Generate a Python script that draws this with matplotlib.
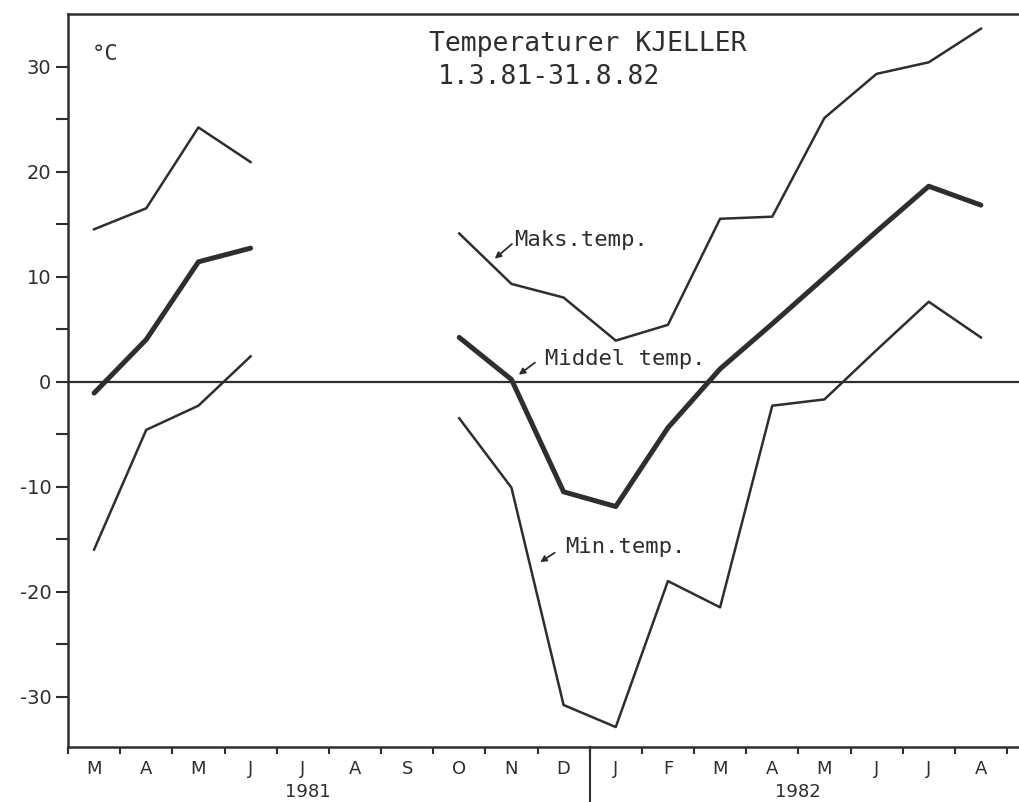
import numpy as np
import matplotlib
matplotlib.use("Agg")
import matplotlib.pyplot as plt
import matplotlib.transforms as mtransforms

# Monthly temperatures, Kjeller, March 1981 - August 1982 (no data Jul-Sep 1981)
months_1981 = ["M", "A", "M", "J", "J", "A", "S", "O", "N", "D"]
months_1982 = ["J", "F", "M", "A", "M", "J", "J", "A"]
nan = np.nan
maks_temp = [14.5, 16.5, 24.2, 20.9, nan, nan, nan, 14.1, 9.3, 8.0,
             3.9, 5.4, 15.5, 15.7, 25.1, 29.3, 30.4, 33.6]
middel_temp = [-1.1, 4.0, 11.4, 12.7, nan, nan, nan, 4.2, 0.2, -10.5,
               -11.9, -4.4, 1.2, 5.5, 9.9, 14.3, 18.6, 16.8]
min_temp = [-16.0, -4.6, -2.3, 2.4, nan, nan, nan, -3.5, -10.1, -30.8,
            -32.9, -19.0, -21.5, -2.3, -1.7, 3.0, 7.6, 4.2]

ink = "#2e2e2e"
lettering = "DejaVu Sans Mono"
month_labels = months_1981 + months_1982
n = len(month_labels)
x = np.arange(n) + 0.5

fig = plt.figure(figsize=(10.19, 8.02), dpi=100)
ax = fig.add_axes([68 / 1019, 1 - 747 / 802, 1 - 68 / 1019, (747 - 14) / 802])

ax.plot(x, maks_temp, color=ink, lw=1.8)
ax.plot(x, middel_temp, color=ink, lw=3.6, solid_capstyle="round")
ax.plot(x, min_temp, color=ink, lw=1.8)
ax.axhline(0, color=ink, lw=1.6)

ax.set_xlim(0, 18.23)
ax.set_ylim(-34.8, 35.0)

# frame: left, bottom and top line only
ax.spines["right"].set_visible(False)
for s in ("left", "bottom", "top"):
    ax.spines[s].set_color(ink)
    ax.spines[s].set_linewidth(1.8)

# y axis ticks
ax.set_yticks(np.arange(-30, 31, 10))
ax.set_yticklabels([str(v) for v in range(-30, 31, 10)])
ax.set_yticks(np.arange(-25, 30, 10), minor=True)
ax.tick_params(axis="y", which="both", direction="out", length=9, width=1.5,
               color=ink, labelsize=14, labelcolor=ink, pad=3)

# x axis: ticks on month boundaries, labels centred in each month
ax.set_xticks(np.arange(0, n + 1))
ax.set_xticklabels([])
ax.tick_params(axis="x", which="major", direction="out", length=5, width=1.5, color=ink)
ax.set_xticks(x, minor=True)
ax.set_xticklabels(month_labels, minor=True)
ax.tick_params(axis="x", which="minor", length=0, labelsize=13, labelcolor=ink, pad=9)

# year labels and year separator
trans = mtransforms.blended_transform_factory(ax.transData, ax.transAxes)
ax.plot([10, 10], [0, -0.08], color=ink, lw=1.5, transform=trans, clip_on=False)
ax.text(4.6, -0.062, "1981", transform=trans, ha="center", va="center",
        fontsize=13, color=ink)
ax.text(14.0, -0.062, "1982", transform=trans, ha="center", va="center",
        fontsize=13, color=ink)

# unit and title
ax.text(0.45, 31.2, "°C", ha="left", va="center", fontsize=16, color=ink,
        family=lettering)
ax.text(9.97, 32.1, "Temperaturer KJELLER", ha="center", va="center",
        fontsize=19, color=ink, family=lettering)
ax.text(9.22, 29.0, "1.3.81-31.8.82", ha="center", va="center",
        fontsize=19, color=ink, family=lettering)

# series labels with small arrows
arrow = dict(arrowstyle="-|>", color=ink, lw=1.3, mutation_scale=9,
             shrinkA=0, shrinkB=0)
ax.text(8.56, 13.5, "Maks.temp.", ha="left", va="center", fontsize=16,
        color=ink, family=lettering)
ax.annotate("", xy=(8.18, 11.7), xytext=(8.51, 13.1), arrowprops=arrow)
ax.text(9.14, 2.1, "Middel temp.", ha="left", va="center", fontsize=16,
        color=ink, family=lettering)
ax.annotate("", xy=(8.64, 0.65), xytext=(8.95, 1.8), arrowprops=arrow)
ax.text(9.53, -15.8, "Min.temp.", ha="left", va="center", fontsize=16,
        color=ink, family=lettering)
ax.annotate("", xy=(9.05, -17.2), xytext=(9.33, -16.3), arrowprops=arrow)

fig.savefig("out.png", dpi=100, facecolor="white")
